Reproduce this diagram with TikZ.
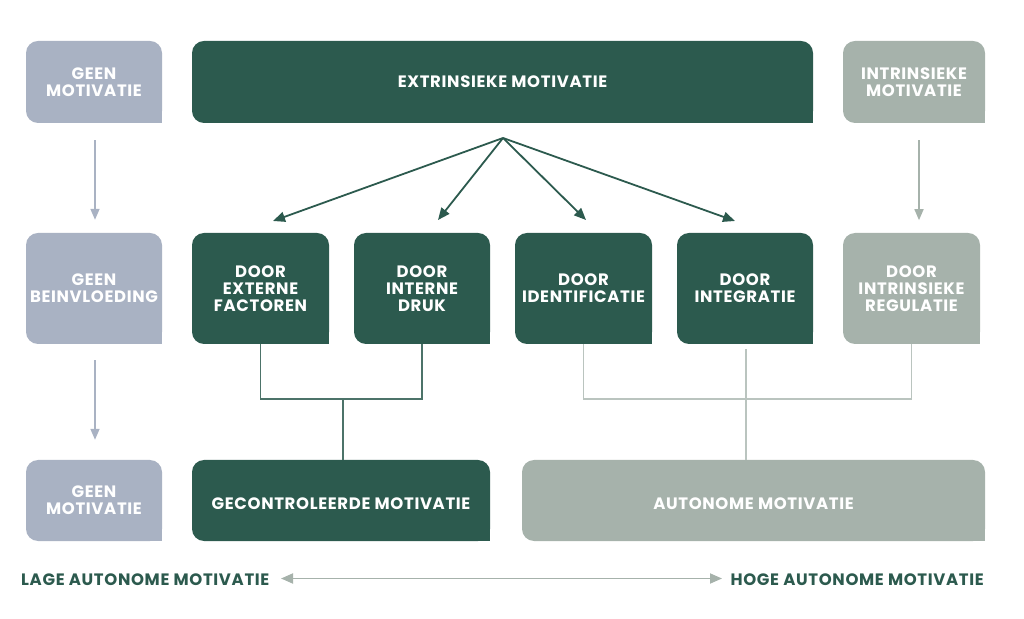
\documentclass[tikz,border=0pt]{standalone}
\usepackage{fontspec}
\setmainfont{Poppins}[LetterSpace=4]
\usetikzlibrary{arrows.meta,calc}
\definecolor{dg}{HTML}{2C5A4E}
\definecolor{bg}{HTML}{A9B2C3}
\definecolor{sg}{HTML}{A6B2AB}
\definecolor{lg}{HTML}{BAC4BF}
\begin{document}
\begin{tikzpicture}[x=1pt,y=1pt,
  bx/.style={fill=#1, rounded corners=12pt, text=white, align=center, inner sep=0pt,
    font=\bfseries\fontsize{16.5}{17}\selectfont},
  big/.style={font=\bfseries\fontsize{16.5}{17}\selectfont, text depth=0pt, text height=18.5pt},
  lab/.style={text=dg, inner sep=0pt, text depth=0pt, text height=11.5pt, font=\bfseries\fontsize{16.5}{17}\selectfont},
  fan/.style={draw=dg, line width=1.8pt, -{Triangle[length=12pt,width=10pt]}},
  varr/.style={draw=bg, line width=1.6pt, -{Triangle[length=11pt,width=9pt]}},
  varrg/.style={draw=sg, line width=1.6pt, -{Triangle[length=11pt,width=9pt]}},
  dline/.style={draw=dg!85, line width=1.2pt},
  gline/.style={draw=lg, line width=1.2pt},
  harr/.style={draw=sg, line width=1.8pt, {Triangle[length=12pt,width=10pt]}-{Triangle[length=12pt,width=10pt]}}
]
\useasboundingbox (0,0) rectangle (1024,618);
% row 1
\node[bx=bg, minimum width=136pt, minimum height=82pt] (gm1) at (94,536) {GEEN\\MOTIVATIE};
\node[bx=dg, minimum width=621pt, minimum height=82pt] (ext) at (502.5,536) {EXTRINSIEKE MOTIVATIE};
\node[bx=sg, minimum width=142pt, minimum height=82pt] (intr) at (914,536) {INTRINSIEKE\\MOTIVATIE};
% row 2
\node[bx=bg, minimum width=136pt, minimum height=111pt] (gb) at (94,329.5) {GEEN\\BEINVLOEDING};
\node[bx=dg, minimum width=137pt, minimum height=111pt] (dext) at (260.5,329.5) {DOOR\\EXTERNE\\FACTOREN};
\node[bx=dg, minimum width=136pt, minimum height=111pt] (dint) at (422,329.5) {DOOR\\INTERNE\\DRUK};
\node[bx=dg, minimum width=137pt, minimum height=111pt] (did) at (583.5,329.5) {DOOR\\IDENTIFICATIE};
\node[bx=dg, minimum width=136pt, minimum height=111pt] (dinteg) at (745,329.5) {DOOR\\INTEGRATIE};
\node[bx=sg, minimum width=137pt, minimum height=111pt] (dintr) at (911.5,329.5) {DOOR\\INTRINSIEKE\\REGULATIE};
% row 3
\node[bx=bg, minimum width=136pt, minimum height=81pt] (gm2) at (94,117.5) {GEEN\\MOTIVATIE};
\node[bx=dg, big, minimum width=298pt, minimum height=81pt] (gec) at (341,117.5) {GECONTROLEERDE MOTIVATIE};
\node[bx=sg, big, minimum width=463pt, minimum height=81pt] (aut) at (753.5,117.5) {AUTONOME MOTIVATIE};
% square bottom-right corners
\foreach \n/\c in {gm1/bg,ext/dg,intr/sg,gb/bg,dext/dg,dint/dg,did/dg,dinteg/dg,dintr/sg,gm2/bg,gec/dg,aut/sg}
  \fill[\c] ($(\n.south east)+(-13,0)$) rectangle ($(\n.south east)+(0,13)$);
% fan arrows
\coordinate (o) at (503,480);
\coordinate (t1) at (273,397);
\coordinate (t2) at (438,398);
\coordinate (t3) at (586,398);
\coordinate (t4) at (735,397);
\draw[fan] (o) -- (t1);
\draw[fan] (o) -- (t2);
\draw[fan] (o) -- (t3);
\draw[fan] (o) -- (t4);
% vertical arrows
\draw[varr] ($(gm1.south)+(1,-17)$) -- ($(gb.north)+(1,13)$);
\draw[varr] ($(gb.south)+(1,-16)$) -- ($(gm2.north)+(1,20)$);
\draw[varrg] ($(intr.south)+(5,-17)$) -- ($(intr.south)+(5,-97)$);
% controlled connectors
\coordinate (cj) at (343,219);
\draw[dline] (dext.south) |- (cj) -| (dint.south);
\draw[dline] (cj) -- (cj |- gec.north);
% autonomous connectors
\coordinate (aj) at (746,219);
\draw[gline] (did.south) |- (aj) -| (dintr.south);
\draw[gline] ($(dinteg.south)+(1,-5)$) -- (aj |- aut.north);
% bottom scale
\node[lab, anchor=west] (lage) at (21,38) {LAGE AUTONOME MOTIVATIE};
\node[lab, anchor=east] (hoge) at (984,38) {HOGE AUTONOME MOTIVATIE};
\coordinate (la) at (281,39.5);
\coordinate (ha) at (722,39.5);
\draw[harr] (la) -- (ha);
\end{tikzpicture}
\end{document}
